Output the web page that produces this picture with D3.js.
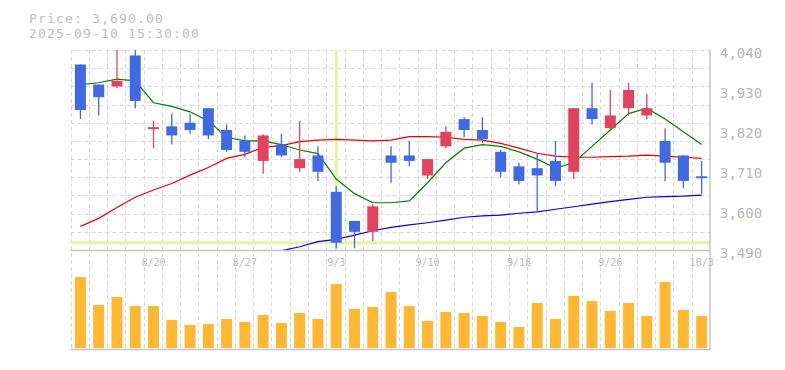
<!DOCTYPE html>
<html><head><meta charset="utf-8">
<script src="https://cdn.jsdelivr.net/npm/d3@7"></script>
<style>body{margin:0;background:#fff}svg{display:block}</style>
</head><body><svg id="c" width="785" height="370"></svg>
<script>
const dates = ["8/14","8/15","8/18","8/19","8/20","8/21","8/22","8/25","8/26","8/27","8/28","8/29","9/1","9/2","9/3","9/4","9/5","9/8","9/9","9/10","9/11","9/12","9/16","9/17","9/18","9/19","9/22","9/24","9/25","9/26","9/29","9/30","10/1","10/2","10/3"];
const opens  = [4000,3945,3940,4025,3820,3830,3840,3880,3820,3790,3735,3780,3715,3750,3650,3570,3540,3750,3750,3695,3775,3850,3820,3760,3720,3715,3735,3705,3880,3825,3880,3860,3790,3750,3690];
const highs  = [4000,3945,4060,4060,3845,3865,3865,3880,3835,3805,3808,3810,3845,3775,3665,3570,3615,3775,3790,3740,3830,3855,3855,3765,3730,3755,3790,3880,3950,3930,3950,3920,3825,3750,3735];
const lows   = [3850,3860,3935,3880,3770,3780,3810,3795,3760,3745,3700,3745,3705,3680,3495,3495,3515,3675,3720,3685,3770,3800,3785,3690,3670,3595,3665,3685,3835,3820,3860,3850,3680,3660,3645];
const closes = [3875,3910,3955,3900,3825,3805,3820,3805,3765,3760,3805,3750,3740,3705,3510,3540,3610,3730,3735,3740,3815,3820,3795,3705,3680,3695,3680,3880,3850,3860,3930,3880,3730,3680,3690];
const volumes = [71000,43000,51000,42000,42000,28000,23000,24000,29000,26000,33000,25000,35000,29000,64000,39000,41000,56000,42000,27000,36000,35000,32000,26000,21000,45000,29000,52000,47000,37000,45000,32000,66000,38000,32000];
const ma5  = [3945,3950,3960,3955,3895,3885,3870,3845,3800,3790,3790,3780,3765,3755,3685,3645,3620,3620,3625,3675,3730,3770,3780,3775,3760,3740,3715,3730,3775,3820,3865,3880,3850,3815,3780];
const ma25 = [3555,3577,3607,3635,3655,3673,3696,3717,3742,3753,3772,3777,3788,3792,3794,3792,3790,3792,3802,3802,3800,3794,3792,3783,3770,3756,3748,3745,3745,3747,3748,3751,3748,3745,3742];
const ma75 = [null,null,null,null,null,null,null,null,null,null,null,3488,3499,3513,3519,3531,3543,3552,3559,3565,3572,3580,3584,3586,3591,3595,3602,3609,3616,3623,3629,3635,3637,3638,3641];
const priceTicks = [4040,3930,3820,3710,3600,3490];
const dateTicks = ["8/20","8/27","9/3","9/10","9/18","9/26","10/3"];
const cursorIndex = 14;
const cursorPrice = 3510;
const titleLines = ["Price: 3,690.00","2025-09-10 15:30:00"];

const svg = d3.select("#c");
const FONT = "'DejaVu Sans Mono', monospace";
const L = 70.5, R = 710, T = 50, B = 250, VT = 252, VB = 348, VAX = 349.5;
const x = d3.scaleBand().domain(d3.range(dates.length)).range([L, R]).padding(0);
const bw = x.bandwidth();
const cx = i => x(i) + bw/2 + 0.8;
const y = d3.scaleLinear().domain([3490, 4040]).range([B, T]);
const yv = d3.scaleLinear().domain([0, 96000]).range([VB, VT]);
const body = 11;

svg.append("defs").append("clipPath").attr("id","pc")
  .append("rect").attr("x", L).attr("y", T).attr("width", R - L).attr("height", B - T);

const grid = svg.append("g").attr("stroke","#d8d8d8").attr("stroke-width",1).attr("stroke-dasharray","4,3");
grid.selectAll("line.h").data(d3.range(3540, 4041, 50)).join("line")
  .attr("x1", L).attr("x2", R).attr("y1", d => Math.round(y(d)) + 0.5).attr("y2", d => Math.round(y(d)) + 0.5);
grid.selectAll("line.v").data(d3.range(dates.length)).join("line")
  .attr("x1", d => Math.round(x(d)) + 0.5).attr("x2", d => Math.round(x(d)) + 0.5).attr("y1", T).attr("y2", VAX);

// crosshair
svg.append("line").attr("x1", cx(cursorIndex)).attr("x2", cx(cursorIndex)).attr("y1", T).attr("y2", B)
  .attr("stroke","#e2f5a4").attr("stroke-width",3);
svg.append("line").attr("x1", L).attr("x2", R).attr("y1", y(cursorPrice)).attr("y2", y(cursorPrice))
  .attr("stroke","#e2f5a4").attr("stroke-width",3);

// axes
const ax = svg.append("g").attr("stroke","#c4c4c4").attr("stroke-width",1.5);
ax.append("line").attr("x1", L).attr("x2", R).attr("y1", B + 0.5).attr("y2", B + 0.5);
ax.append("line").attr("x1", L).attr("x2", R).attr("y1", VAX).attr("y2", VAX);
ax.append("line").attr("x1", R).attr("x2", R).attr("y1", T).attr("y2", VAX + 0.75);

// volume
svg.append("g").selectAll("rect").data(volumes).join("rect")
  .attr("x", (d,i) => cx(i) - body/2).attr("width", body)
  .attr("y", d => yv(d)).attr("height", d => VB - yv(d))
  .attr("fill", "#ffb833");

// moving averages
const plot = svg.append("g").attr("clip-path","url(#pc)");
const line = d3.line().defined(d => d != null).x((d,i) => cx(i)).y(d => y(d));
[[ma75,"#0000ee"],[ma25,"#ee0000"],[ma5,"#008000"]].forEach(([arr,col]) => {
  plot.append("path").datum(arr).attr("d", line).attr("fill","none").attr("stroke",col).attr("stroke-width",1.2);
});

// candles
const up = "#e0435f", dn = "#4169e1";
const cg = plot.append("g");
dates.forEach((d,i) => {
  const col = closes[i] > opens[i] ? up : dn;
  cg.append("line").attr("x1", cx(i)).attr("x2", cx(i)).attr("y1", y(highs[i])).attr("y2", y(lows[i]))
    .attr("stroke", col).attr("stroke-width", 1.3);
  const top = y(Math.max(opens[i], closes[i])), bot = y(Math.min(opens[i], closes[i]));
  const h = Math.max(2, bot - top);
  cg.append("rect").attr("x", cx(i) - body/2).attr("width", body)
    .attr("y", bot - top < 2 ? top - 1 : top).attr("height", h).attr("fill", col);
});

// price labels
svg.append("g").selectAll("text").data(priceTicks).join("text")
  .attr("x", 720).attr("y", d => y(d) + 8.3)
  .attr("font-family", FONT).attr("font-size", 14).attr("fill", "#b8b8b8")
  .text(d => d3.format(",")(d));

// date labels
svg.append("g").selectAll("text").data(dateTicks).join("text")
  .attr("x", d => cx(dates.indexOf(d))).attr("y", 266).attr("text-anchor","middle")
  .attr("font-family", FONT).attr("font-size", 10).attr("fill", "#bcbcbc")
  .text(d => d);

// title
svg.append("g").selectAll("text").data(titleLines).join("text")
  .attr("x", 29).attr("y", (d,i) => 22.5 + i * 15.5)
  .attr("font-family", FONT).attr("font-size", 13).attr("letter-spacing", 1.17).attr("fill", "#bdbdbd")
  .text(d => d);
</script></body></html>
